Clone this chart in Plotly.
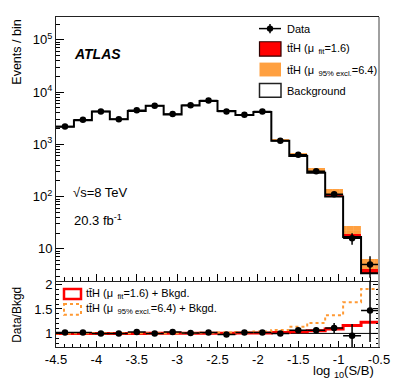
import plotly.graph_objects as go

# ---------------- data ----------------
X_MIN, X_MAX, N_BINS = -4.5, -0.5, 18
bin_w = (X_MAX - X_MIN) / N_BINS
edges = [X_MIN + i * bin_w for i in range(N_BINS + 1)]
centers = [X_MIN + (i + 0.5) * bin_w for i in range(N_BINS)]

data_counts = [2200, 2950, 4240, 3020, 4470, 5500, 3820, 5580, 6900,
               4250, 3700, 4250, 1170, 635, 306, 111, 16, 5]
data_err = [47, 54, 65, 55, 67, 74, 62, 75, 83,
            65, 61, 65, 34, 25, 17.5, 10.5, 4.0, 2.2]
background = [2160, 2890, 4240, 3020, 4340, 5500, 3710, 5520, 6760,
              4340, 3630, 4170, 1170, 595, 287, 100, 16.8, 3.4]
# (signal + background) / background
ratio_fit = [1.0001, 1.0003, 1.0003, 1.0005, 1.0008, 1.001, 1.0013, 1.002, 1.003,
             1.0045, 1.006, 1.01, 1.017, 1.034, 1.054, 1.092, 1.16, 1.228]
ratio_excl = [1.0005, 1.001, 1.001, 1.002, 1.003, 1.004, 1.005, 1.008, 1.012,
              1.018, 1.025, 1.04, 1.068, 1.135, 1.215, 1.37, 1.64, 1.91]

y_tick_vals = [10, 100, 1000, 10000, 100000]
y_tick_text = ["10", "10<sup>2</sup>", "10<sup>3</sup>", "10<sup>4</sup>", "10<sup>5</sup>"]
x_tick_vals = [-4.5, -4.0, -3.5, -3.0, -2.5, -2.0, -1.5, -1.0, -0.5]
x_tick_text = ["-4.5", "-4", "-3.5", "-3", "-2.5", "-2", "-1.5", "-1", "-0.5"]
r_tick_vals = [1, 1.5, 2]
r_tick_text = ["1", "1.5", "2"]

RED = "#ff0000"
ORANGE = "#ffa040"
ORANGE_LINE = "#ff9933"
FONT = "Liberation Sans, Arial, Helvetica, sans-serif"

# ---------------- geometry helpers (screen pixels -> paper) ----------------
OFF = 8  # default page body margin
L, R, T, B = 56, 379, 14, 347
SPLIT = 280
W, H = 399 - OFF, 388 - OFF


def px(x):
    return (x - L) / (R - L)


def py(y):
    return (B - y) / (B - T)


split_frac = py(SPLIT)

fig = go.Figure()

# signal stacks
fig.add_trace(go.Bar(
    x=centers, base=background,
    y=[b * (f - 1) for b, f in zip(background, ratio_fit)],
    width=bin_w, marker=dict(color=RED, line=dict(width=0)),
    xaxis="x", yaxis="y", showlegend=False, hoverinfo="skip"))
fig.add_trace(go.Bar(
    x=centers, base=[b * f for b, f in zip(background, ratio_fit)],
    y=[b * (e - f) for b, e, f in zip(background, ratio_excl, ratio_fit)],
    width=bin_w,
    marker=dict(color=ORANGE, line=dict(width=0),
                pattern=dict(shape="+", fgcolor="#ffc890", size=7, solidity=0.12,
                             fillmode="overlay")),
    xaxis="x", yaxis="y", showlegend=False, hoverinfo="skip"))

# background outline
fig.add_trace(go.Scatter(
    x=edges, y=background + [background[-1]], mode="lines",
    line=dict(color="black", width=2, shape="hv"),
    xaxis="x", yaxis="y", showlegend=False, hoverinfo="skip"))

# data
fig.add_trace(go.Scatter(
    x=centers, y=data_counts, mode="markers",
    marker=dict(color="black", size=6.5),
    error_y=dict(type="data", array=data_err, color="black", thickness=1.5, width=0),
    error_x=dict(type="constant", value=bin_w / 2, color="black", thickness=1.5, width=0),
    xaxis="x", yaxis="y", showlegend=False, hoverinfo="skip"))

# ratio panel
fig.add_trace(go.Scatter(
    x=[X_MIN, X_MAX], y=[1, 1], mode="lines",
    line=dict(color="black", width=1),
    xaxis="x2", yaxis="y2", showlegend=False, hoverinfo="skip"))
fig.add_trace(go.Scatter(
    x=edges, y=ratio_fit + [ratio_fit[-1]], mode="lines",
    line=dict(color=RED, width=3, shape="hv"),
    xaxis="x2", yaxis="y2", showlegend=False, hoverinfo="skip"))
fig.add_trace(go.Scatter(
    x=edges, y=ratio_excl + [ratio_excl[-1]], mode="lines",
    line=dict(color=ORANGE_LINE, width=2, shape="hv", dash="dot"),
    xaxis="x2", yaxis="y2", showlegend=False, hoverinfo="skip"))
fig.add_trace(go.Scatter(
    x=centers, y=[d / b for d, b in zip(data_counts, background)], mode="markers",
    marker=dict(color="black", size=6.5),
    error_y=dict(type="data", array=[e / b for e, b in zip(data_err, background)],
                 color="black", thickness=1.5, width=0),
    error_x=dict(type="constant", value=bin_w / 2, color="black", thickness=1.5, width=0),
    xaxis="x2", yaxis="y2", showlegend=False, hoverinfo="skip"))

# minor tick positions
x_minor = [round(X_MIN + 0.1 * i, 3) for i in range(41)]
y_minor = [m * 10 ** k for k in range(0, 6) for m in range(2, 10)]
r_minor = [round(0.8 + 0.1 * i, 2) for i in range(14)]

axis_common = dict(showgrid=False, zeroline=False, tickcolor="black", tickwidth=1,
                   linecolor="#222", linewidth=1, showline=True,
                   tickfont=dict(family=FONT, size=13, color="black"))

fig.update_layout(
    width=W, height=H,
    margin=dict(l=L - OFF, r=399 - R, t=T - OFF, b=388 - B, pad=0),
    paper_bgcolor="white", plot_bgcolor="white",
    barmode="overlay", bargap=0, showlegend=False,
    font=dict(family=FONT, color="black"),
    xaxis=dict(domain=[0, 1], anchor="y", range=[X_MIN, X_MAX],
               tickmode="array", tickvals=x_tick_vals, showticklabels=False,
               ticks="inside", ticklen=7, mirror=True,
               minor=dict(tickmode="array", tickvals=x_minor, ticks="inside",
                          ticklen=4, tickcolor="black", showgrid=False),
               **axis_common),
    yaxis=dict(domain=[split_frac, 1], anchor="x", type="log", range=[0.393, 5.436],
               tickmode="array", tickvals=y_tick_vals, ticktext=y_tick_text,
               ticks="inside", ticklen=8,
               minor=dict(tickmode="array", tickvals=y_minor, ticks="inside",
                          ticklen=4, tickcolor="black", showgrid=False),
               **axis_common),
    xaxis2=dict(domain=[0, 1], anchor="y2", range=[X_MIN, X_MAX], matches="x",
                tickmode="array", tickvals=x_tick_vals, ticktext=x_tick_text,
                ticks="inside", ticklen=6,
                minor=dict(tickmode="array", tickvals=x_minor, ticks="inside",
                           ticklen=3, tickcolor="black", showgrid=False),
                **axis_common),
    yaxis2=dict(domain=[0, split_frac], anchor="x2", range=[0.722, 2.081],
                tickmode="array", tickvals=r_tick_vals, ticktext=r_tick_text,
                ticks="inside", ticklen=6, mirror="ticks",
                minor=dict(tickmode="array", tickvals=r_minor, ticks="inside",
                           ticklen=3, tickcolor="black", showgrid=False),
                **axis_common),
)

shapes = []
# right border (grey)
shapes.append(dict(type="line", xref="paper", yref="paper", x0=1, x1=1, y0=0, y1=1,
                   line=dict(color="#a0a0a0", width=2)))
# legend glyphs (main panel)
shapes.append(dict(type="line", xref="paper", yref="paper",
                   x0=px(259), x1=px(281), y0=py(25.7), y1=py(25.7),
                   line=dict(color="black", width=1.5)))
shapes.append(dict(type="line", xref="paper", yref="paper",
                   x0=px(270), x1=px(270), y0=py(21), y1=py(30.5),
                   line=dict(color="black", width=1.5)))
shapes.append(dict(type="circle", xref="paper", yref="paper",
                   x0=px(266.8), x1=px(273.2), y0=py(22.5), y1=py(28.9),
                   fillcolor="black", line=dict(color="black", width=0)))
shapes.append(dict(type="rect", xref="paper", yref="paper",
                   x0=px(259.5), x1=px(281), y0=py(39), y1=py(53.5),
                   fillcolor=RED, line=dict(color="#300000", width=1.2)))
shapes.append(dict(type="rect", xref="paper", yref="paper",
                   x0=px(259.5), x1=px(281), y0=py(60), y1=py(74),
                   fillcolor=ORANGE, line=dict(width=0)))
shapes.append(dict(type="rect", xref="paper", yref="paper",
                   x0=px(259.5), x1=px(281), y0=py(81), y1=py(95),
                   fillcolor="white", line=dict(color="#222", width=1.5)))
# legend glyphs (ratio panel)
shapes.append(dict(type="rect", xref="paper", yref="paper",
                   x0=px(64), x1=px(81), y0=py(288.5), y1=py(298.5),
                   fillcolor="rgba(0,0,0,0)", line=dict(color=RED, width=2.5)))
shapes.append(dict(type="rect", xref="paper", yref="paper",
                   x0=px(64), x1=px(81), y0=py(303.5), y1=py(314.5),
                   fillcolor="rgba(0,0,0,0)", line=dict(color=ORANGE_LINE, width=2, dash="dot")))

TTH = "tt\u0304H"


def ann(text, x, y, size=11, xanchor="left", angle=0):
    return dict(text=text, xref="paper", yref="paper", x=px(x), y=py(y),
                xanchor=xanchor, yanchor="middle", showarrow=False, textangle=angle,
                font=dict(family=FONT, size=size, color="black"))


annotations = [
    ann("Data", 285, 25.7),
    ann(TTH + " (\u03bc<sub>  fit</sub>=1.6)", 285, 46.7),
    ann(TTH + " (\u03bc<sub>  95% excl.</sub>=6.4)", 285, 68),
    ann("Background", 285, 88.3),
    ann("<b><i>ATLAS</i></b>", 71.5, 51.7, size=14),
    ann("\u221as=8 TeV", 71, 191, size=13),
    ann("20.3 fb<sup>-1</sup>", 71.5, 218.5, size=13),
    ann(TTH + " (\u03bc<sub>  fit</sub>=1.6) + Bkgd.", 83.5, 293.5, size=11),
    ann(TTH + " (\u03bc<sub>  95% excl.</sub>=6.4) + Bkgd.", 83.5, 309, size=11),
    ann("Events / bin", 17, 50, size=12.5, xanchor="center", angle=-90),
    ann("Data/Bkgd", 17, 314.5, size=12, xanchor="center", angle=-90),
    ann("log <sub>10</sub>(S/B)", 376, 372, size=13, xanchor="right"),
]

fig.update_layout(shapes=shapes, annotations=annotations)

fig.write_html("out.html")
